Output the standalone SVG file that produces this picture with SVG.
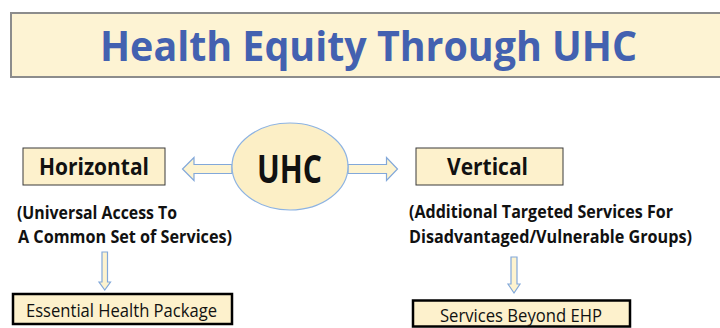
<svg xmlns="http://www.w3.org/2000/svg" width="720" height="328" viewBox="0 0 720 328">
<style>
  .bx { fill: #fdf1cc; stroke: #3a3a3a; stroke-width: 1; }
  .bxk { fill: #fdf1cc; stroke: #000000; stroke-width: 2.5; }
  .arr { fill: #fdf3cf; stroke: #82a8da; stroke-width: 1.2; stroke-linejoin: miter; }
  .t { font-family: "Open Sans", Lato, "Liberation Sans", sans-serif; fill: #111111; }
  .b { font-weight: bold; }
</style>
<rect width="720" height="328" fill="#ffffff"/>
<g id="title">
  <rect x="11" y="13" width="720" height="64" fill="#fdf3d3" stroke="#8c8c8c" stroke-width="2"/>
  <text class="t b" x="100" y="61" font-size="42" style="fill:#4361b0" textLength="537" lengthAdjust="spacingAndGlyphs">Health Equity Through UHC</text>
</g>
<g id="connectors">
  <polygon class="arr" points="232,164.5 194,164.5 194,157.5 182.5,169 194,180.5 194,173.5 232,173.5"/>
  <polygon class="arr" points="348,164.5 386.5,164.5 386.5,157.5 397.5,169 386.5,180.5 386.5,173.5 348,173.5"/>
  <polygon class="arr" points="102,252 107.5,252 107.5,282 110.5,282 104.75,290 99,282 102,282"/>
  <polygon class="arr" points="511,257 517,257 517,284 520,284 514,293 508,284 511,284"/>
</g>
<g id="uhc">
  <ellipse cx="290" cy="166.5" rx="58" ry="43.5" fill="#fcefc6" stroke="#8db3e2" stroke-width="1.2"/>
  <text class="t b" x="289.5" y="183" font-size="39" text-anchor="middle" textLength="65" lengthAdjust="spacingAndGlyphs">UHC</text>
</g>
<g id="horizontal">
  <rect class="bx" x="23" y="148" width="142" height="37"/>
  <text class="t b" x="94" y="175" font-size="23" text-anchor="middle" textLength="110" lengthAdjust="spacingAndGlyphs">Horizontal</text>
</g>
<g id="vertical">
  <rect class="bx" x="416" y="148" width="147" height="37"/>
  <text class="t b" x="487.5" y="175" font-size="23" text-anchor="middle" textLength="81" lengthAdjust="spacingAndGlyphs">Vertical</text>
</g>
<g id="horizontal-desc">
  <text class="t b" font-size="17"><tspan x="17" y="219" textLength="160" lengthAdjust="spacingAndGlyphs">(Universal Access To</tspan><tspan x="18" y="242.5" textLength="214" lengthAdjust="spacingAndGlyphs">A Common Set of Services)</tspan></text>
</g>
<g id="vertical-desc">
  <text class="t b" font-size="17.5"><tspan x="409" y="217.5" textLength="264" lengthAdjust="spacingAndGlyphs">(Additional Targeted Services For</tspan><tspan x="409" y="243" textLength="283" lengthAdjust="spacingAndGlyphs">Disadvantaged/Vulnerable Groups)</tspan></text>
</g>
<g id="ehp">
  <rect class="bxk" x="13" y="294" width="219" height="30"/>
  <text class="t" x="26" y="317" font-size="19" textLength="191" lengthAdjust="spacingAndGlyphs">Essential Health Package</text>
</g>
<g id="beyond-ehp">
  <rect class="bxk" x="413" y="300.5" width="217" height="26"/>
  <text class="t" x="440" y="321.5" font-size="18" textLength="162" lengthAdjust="spacingAndGlyphs">Services Beyond EHP</text>
</g>
</svg>
